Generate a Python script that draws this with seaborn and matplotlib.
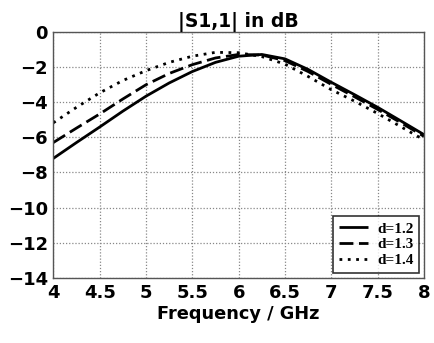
import numpy as np
import pandas as pd
import matplotlib
matplotlib.use("Agg")
import matplotlib.pyplot as plt
import seaborn as sns

freq = [4.0, 4.25, 4.5, 4.75, 5.0, 5.25, 5.5, 5.75, 6.0, 6.25, 6.5, 6.75, 7.0, 7.25, 7.5, 7.75, 8.0]
s11_d12 = [-7.2, -6.3, -5.42, -4.52, -3.67, -2.92, -2.27, -1.75, -1.4, -1.3, -1.55, -2.15, -2.88, -3.58, -4.3, -5.07, -5.85]
s11_d13 = [-6.3, -5.48, -4.68, -3.83, -3.02, -2.38, -1.88, -1.5, -1.3, -1.33, -1.65, -2.27, -3.0, -3.7, -4.42, -5.17, -5.95]
s11_d14 = [-5.18, -4.3, -3.48, -2.78, -2.22, -1.75, -1.4, -1.18, -1.2, -1.42, -1.85, -2.55, -3.3, -3.95, -4.65, -5.4, -6.15]
labels = ["d=1.2", "d=1.3", "d=1.4"]

df = pd.DataFrame({
    "freq": freq * 3,
    "s11": s11_d12 + s11_d13 + s11_d14,
    "d": [labels[0]] * len(freq) + [labels[1]] * len(freq) + [labels[2]] * len(freq),
})

sns.set_style("white")
plt.rcParams.update({"text.color": "black", "axes.labelcolor": "black",
                     "xtick.color": "black", "ytick.color": "black"})
fig = plt.figure(figsize=(4.35, 3.43), dpi=100)
ax = fig.add_axes([0.1226, 0.189, 0.852, 0.719])

styles = {labels[0]: (0, ()), labels[1]: (0, (5, 2)), labels[2]: (0, (1, 2))}
for lab in labels:
    sub = df[df["d"] == lab]
    sns.lineplot(data=sub, x="freq", y="s11", ax=ax, color="black", lw=2.0,
                 linestyle=styles[lab], label=lab)

ax.set_xlim(4, 8)
ax.set_ylim(-14, 0)
ax.set_xticks([4, 4.5, 5, 5.5, 6, 6.5, 7, 7.5, 8])
ax.set_xticklabels(["4", "4.5", "5", "5.5", "6", "6.5", "7", "7.5", "8"])
ax.set_yticks(range(-14, 1, 2))
ax.grid(True, color="#888888", linestyle=(0, (1, 1.5)), lw=0.9)
for sp in ax.spines.values():
    sp.set_color("#555555")
    sp.set_linewidth(1.0)
ax.tick_params(axis="both", labelsize=13, length=3, direction="out", colors="black", pad=1)
for t in ax.get_xticklabels() + ax.get_yticklabels():
    t.set_fontweight("bold")
ax.set_xlabel("Frequency / GHz", fontsize=12.8, fontweight="bold", labelpad=2, color="black")
ax.set_ylabel("")
ax.set_title("|S1,1| in dB", fontsize=13.5, fontweight="bold", pad=3, color="black")

leg = ax.legend(loc="lower right", frameon=True, fancybox=False, handlelength=1.9,
                prop={"family": "Liberation Serif", "weight": "bold", "size": 11},
                borderpad=0.35, labelspacing=0.15, borderaxespad=0.35, handletextpad=0.6)
leg.get_frame().set_edgecolor("black")
leg.get_frame().set_linewidth(1.2)
for t in leg.get_texts():
    t.set_color("black")

fig.savefig("out.png", dpi=100)
